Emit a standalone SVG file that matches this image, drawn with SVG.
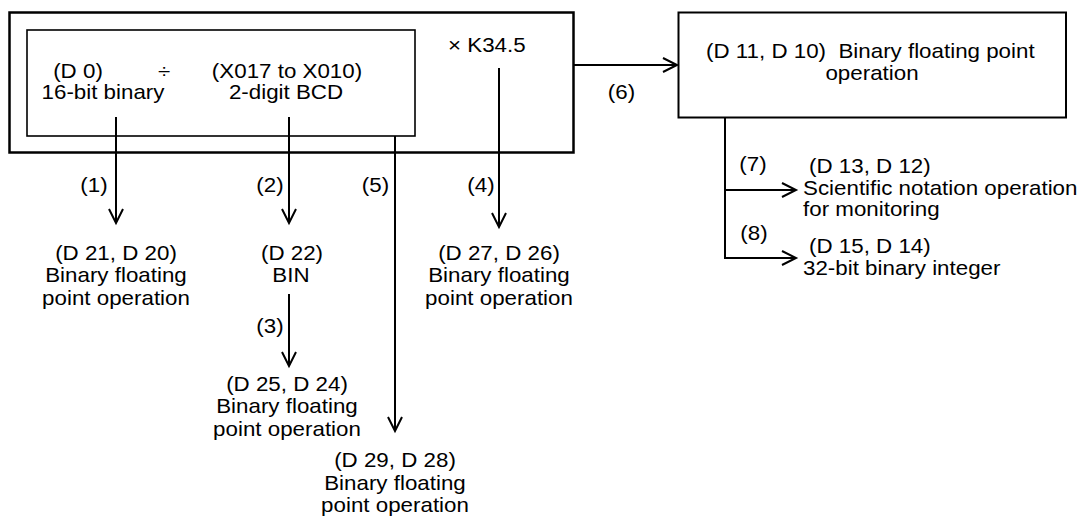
<svg xmlns="http://www.w3.org/2000/svg" width="1082" height="516" viewBox="0 0 1082 516">
<defs>
<style>
.t{font-family:"Liberation Sans",Arial,sans-serif;font-size:20.5px;fill:#000}
.m{text-anchor:middle}
.box{fill:none;stroke:#000}
.ln{fill:none;stroke:#000;stroke-width:2}
</style>
<marker id="ah" markerWidth="24" markerHeight="24" viewBox="-18 -12 24 24" refX="0" refY="0" orient="auto" markerUnits="userSpaceOnUse" overflow="visible">
<path d="M-14,-7 L0,0 L-14,7" fill="none" stroke="#000" stroke-width="2"/>
</marker>
</defs>
<rect width="1082" height="516" fill="#fff"/>

<g id="outer-box">
<rect class="box" x="9.5" y="12.5" width="564" height="140" stroke-width="2.5"/>
<text class="t" transform="translate(448,52) scale(1.09,1)">× K34.5</text>
</g>

<g id="inner-box">
<rect class="box" x="27" y="30" width="388" height="106" stroke-width="1.6"/>
<text class="t m" transform="translate(78,77.5) scale(1.09,1)">(D 0)</text>
<text class="t m" transform="translate(103,99) scale(1.09,1)">16-bit binary</text>
<text class="t m" transform="translate(164,77.5) scale(1.09,1)">÷</text>
<text class="t m" transform="translate(287,77.5) scale(1.09,1)">(X017 to X010)</text>
<text class="t m" transform="translate(286,99) scale(1.09,1)">2-digit BCD</text>
</g>

<g id="d10-box">
<rect class="box" x="678.5" y="12.5" width="387.5" height="105" stroke-width="2"/>
<text class="t" transform="translate(706,58) scale(1.09,1)" xml:space="preserve">(D 11, D 10)  Binary floating point</text>
<text class="t m" transform="translate(872,80) scale(1.09,1)">operation</text>
</g>

<g id="d20">
<text class="t m" transform="translate(116,260) scale(1.09,1)">(D 21, D 20)</text>
<text class="t m" transform="translate(116,282) scale(1.09,1)">Binary floating</text>
<text class="t m" transform="translate(116,305) scale(1.09,1)">point operation</text>
</g>

<g id="d22">
<text class="t m" transform="translate(292,260) scale(1.09,1)">(D 22)</text>
<text class="t m" transform="translate(291,282) scale(1.09,1)">BIN</text>
</g>

<g id="d24">
<text class="t m" transform="translate(287,391) scale(1.09,1)">(D 25, D 24)</text>
<text class="t m" transform="translate(287,413) scale(1.09,1)">Binary floating</text>
<text class="t m" transform="translate(287,436) scale(1.09,1)">point operation</text>
</g>

<g id="d26">
<text class="t m" transform="translate(499,260) scale(1.09,1)">(D 27, D 26)</text>
<text class="t m" transform="translate(499,282) scale(1.09,1)">Binary floating</text>
<text class="t m" transform="translate(499,305) scale(1.09,1)">point operation</text>
</g>

<g id="d28">
<text class="t m" transform="translate(395,467) scale(1.09,1)">(D 29, D 28)</text>
<text class="t m" transform="translate(395,490) scale(1.09,1)">Binary floating</text>
<text class="t m" transform="translate(395,512) scale(1.09,1)">point operation</text>
</g>

<g id="d12">
<text class="t" transform="translate(809,173) scale(1.09,1)">(D 13, D 12)</text>
<text class="t" transform="translate(803,195) scale(1.09,1)">Scientific notation operation</text>
<text class="t" transform="translate(803,216) scale(1.09,1)">for monitoring</text>
</g>

<g id="d14">
<text class="t" transform="translate(809,253) scale(1.09,1)">(D 15, D 14)</text>
<text class="t" transform="translate(803,275) scale(1.09,1)">32-bit binary integer</text>
</g>

<g id="connectors">
<line class="ln" x1="116" y1="117" x2="116" y2="223" marker-end="url(#ah)"/>
<line class="ln" x1="289" y1="117" x2="289" y2="223" marker-end="url(#ah)"/>
<line class="ln" x1="395" y1="136" x2="395" y2="431" marker-end="url(#ah)"/>
<line class="ln" x1="499" y1="68" x2="499" y2="227" marker-end="url(#ah)"/>
<line class="ln" x1="289" y1="294" x2="289" y2="366" marker-end="url(#ah)"/>
<line class="ln" x1="573" y1="65" x2="677" y2="65" marker-end="url(#ah)"/>
<line class="ln" x1="725" y1="117" x2="725" y2="259"/>
<line class="ln" x1="724" y1="190" x2="796" y2="190" marker-end="url(#ah)"/>
<line class="ln" x1="724" y1="258" x2="796" y2="258" marker-end="url(#ah)"/>
<text class="t m" transform="translate(94,192) scale(1.09,1)">(1)</text>
<text class="t m" transform="translate(270,192) scale(1.09,1)">(2)</text>
<text class="t m" transform="translate(375.5,192) scale(1.09,1)">(5)</text>
<text class="t m" transform="translate(481,192) scale(1.09,1)">(4)</text>
<text class="t m" transform="translate(270,333) scale(1.09,1)">(3)</text>
<text class="t m" transform="translate(621.5,98.5) scale(1.09,1)">(6)</text>
<text class="t m" transform="translate(753,171) scale(1.09,1)">(7)</text>
<text class="t m" transform="translate(754,240) scale(1.09,1)">(8)</text>
</g>
</svg>
